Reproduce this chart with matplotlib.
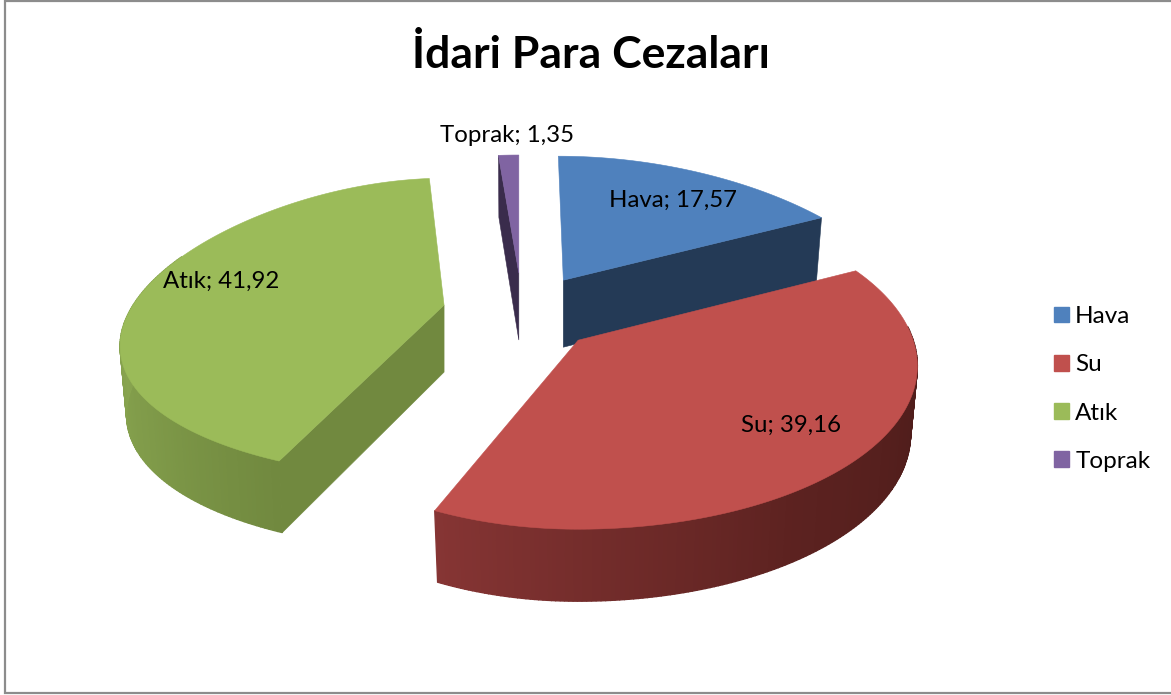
import numpy as np
import matplotlib
matplotlib.use("Agg")
import matplotlib.pyplot as plt
from matplotlib.patches import Patch, Rectangle
from matplotlib.colors import to_rgb

categories = ["Hava", "Su", "Atık", "Toprak"]
values = [17.57, 39.16, 41.92, 1.35]
title = "İdari Para Cezaları"

top_colors = ["#4f81bd", "#c0504d", "#9bbb59", "#8064a2"]
cut_colors = ["#243a56", "#5a2220", "#71893f", "#3a2c4c"]
# wall colour going clockwise along the slice rim
wall_colors = {1: ["#4a1b19", "#5c2220", "#863534"], 2: ["#71893f", "#7f9a49", "#88a44f", "#7f9c4a"]}

# pie geometry in pixels
CX, CY = 520, 311
EX, EY = 75, 35
# each slice sits a bit differently because of the 3d perspective
# dx, dy, rx right, rx left, persp, A, B, shear
shape = [
    (4, -1, 332, 320, 0.27, 151, -27, 5),
    (4, 5, 335, 305, 0.16, 165, -24, 0),
    (-2, 0, 320, 311, 0.29, 150, -23, -4),
    (2, -3, 320, 320, 0.25, 151, -33, 0),
]


def apex(mid, sh):
    m = np.radians(mid)
    return CX + EX * np.sin(m) + sh[0], CY - EY * np.cos(m) + sh[1]


def rim(theta, ax0, ay0, sh):
    # theta in degrees, clockwise from 12 o'clock
    t = np.radians(theta)
    s, c = np.sin(t), np.cos(t)
    rx = np.where(s >= 0, sh[2], sh[3])
    return ax0 + rx * s * (1 - sh[4] * c) - sh[7] * c, ay0 - (sh[5] * c + sh[6] * c ** 2)


def lower(x, y, theta, ax0):
    # same rim on the bottom of the slab, a bit narrower and further down
    c = np.cos(np.radians(theta))
    return ax0 + (x - ax0) * 0.98, y + 67 - 5 * c


def mix(cols, f):
    rgb = np.array([to_rgb(c) for c in cols])
    pos = np.linspace(0, 1, len(cols))
    return tuple(np.interp(f, pos, rgb[:, i]) for i in range(3))


fig = plt.figure(figsize=(11.71, 6.95), dpi=100)
ax = fig.add_axes([0, 0, 1, 1])
ax.set_xlim(0, 1171)
ax.set_ylim(695, 0)
ax.axis("off")
plt.rcParams["font.family"] = ["Lato", "DejaVu Sans"]

ax.add_patch(Rectangle((5, 0.5), 1170, 692.5, fc="white", ec="#8c8c8c", lw=1.6))

starts = np.cumsum([0] + values[:-1]) / sum(values) * 360
sweeps = np.array(values) / sum(values) * 360

# draw order: back slices first, Su on top of Hava
for i in [3, 0, 2, 1]:
    sh = shape[i]
    a0, a1 = starts[i], starts[i] + sweeps[i]
    ax0, ay0 = apex((a0 + a1) / 2, sh)
    th = np.linspace(a0, a1, 200)
    x, y = rim(th, ax0, ay0, sh)
    xb, yb = lower(x, y, th, ax0)
    # outer wall, only the front part can be seen
    if i in wall_colors:
        vis = np.where((th > 85) & (th < 290))[0]
        for n, j in enumerate(vis[:-1]):
            col = mix(wall_colors[i], n / (len(vis) - 1))
            qx = [x[j], x[j + 1], xb[j + 1], xb[j]]
            qy = [y[j], y[j + 1], yb[j + 1], yb[j]]
            ax.fill(qx, qy, fc=col, ec=col, lw=1.0)
    # cut face of the slice
    if i == 0:
        cut = a1
    elif i == 2:
        cut = a0
    elif i == 3:
        cut = a0
    else:
        cut = None
    if cut is not None:
        ex, ey = rim(cut, ax0, ay0, sh)
        ebx, eby = lower(ex, ey, cut, ax0)
        ax.fill([ax0, ex, ebx, ax0], [ay0, ey, eby, ay0 + 67], fc=cut_colors[i], ec=cut_colors[i], lw=0.4)
    ax.fill(np.r_[ax0, x], np.r_[ay0, y], fc=top_colors[i], ec=top_colors[i], lw=0.4)

ax.text(591, 55, title, ha="center", va="center", fontsize=32, fontweight="bold", color="black")

label_pos = [(673, 200), (791, 425), (221, 281), (507, 135)]
for name, val, (lx, ly) in zip(categories, values, label_pos):
    txt = f"{name}; {val:.2f}".replace(".", ",")
    ax.text(lx, ly, txt, ha="center", va="center", fontsize=17.3, color="black")

handles = [Patch(fc=c, ec=c) for c in top_colors]
ax.legend(handles, categories, loc="center left", bbox_to_anchor=(1054 / 1171, 1 - 389 / 695),
          frameon=False, fontsize=17.5, handlelength=0.62, handleheight=0.62, handletextpad=0.25,
          labelspacing=1.12, borderpad=0, borderaxespad=0)

fig.savefig("out.png", dpi=100)
